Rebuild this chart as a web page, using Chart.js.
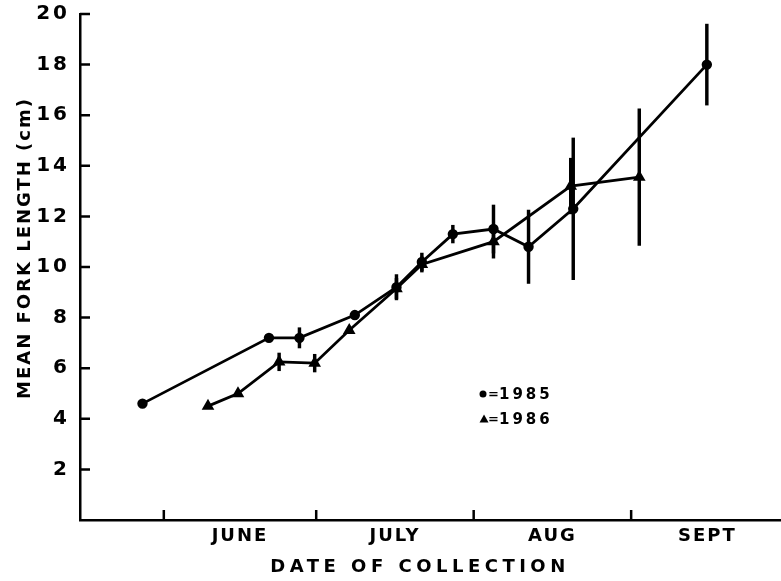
<!DOCTYPE html>
<html>
<head>
    <title>Mean fork length by date of collection</title>
    <script src="https://cdn.jsdelivr.net/npm/chart.js"></script>
    <style>
        body { margin: 0; background: #fff; }
        #wrap { width: 781px; height: 581px; }
    </style>
</head>
<body>
    <div id="wrap"><canvas id="forkChart"></canvas></div>
    <script>
        // x values are days counted from 1 May (1 June = day 31)
        const monthLabels = ['JUNE', 'JULY', 'AUG', 'SEPT'];
        const monthStarts = [31, 61, 92, 123, 153];

        // 1985 (circles)
        const days1985 = [26.8, 51.7, 57.7, 68.6, 76.8, 81.8, 87.9, 95.9, 102.8, 111.6, 137.9];
        const fork1985 = [4.6, 7.2, 7.2, 8.1, 9.2, 10.2, 11.3, 11.5, 10.8, 12.3, 18.0];
        const err1985  = [0, 0, 0.4, 0, 0.5, 0.35, 0.35, 0.95, 1.45, 2.8, 1.6];

        // 1986 (triangles)
        const days1986 = [39.7, 45.6, 53.7, 60.7, 67.5, 76.8, 81.8, 95.9, 111.1, 124.6];
        const fork1986 = [4.5, 5.0, 6.25, 6.2, 7.5, 9.15, 10.1, 11.0, 13.2, 13.55];
        const err1986  = [0, 0, 0.35, 0.35, 0, 0.4, 0.3, 0.65, 1.1, 2.7];

        const FONT = '"DejaVu Sans", sans-serif';

        // month names sit halfway between the month boundaries
        const labelDays = monthLabels.map((m, i) => (monthStarts[i] + monthStarts[i + 1]) / 2);

        const points = (xs, ys) => xs.map((d, i) => ({ x: d, y: ys[i] }));
        const errorBars = (xs, ys, es) => xs
            .map((d, i) => ({ x: d, y: [ys[i] - es[i], ys[i] + es[i]] }))
            .filter((p, i) => es[i] > 0);

        // inward tick marks, axis titles and the little key
        const inkPlugin = {
            id: 'ink',
            beforeDraw(chart) {
                chart.ctx.letterSpacing = '2px';
            },
            afterDatasetsDraw(chart) {
                // y labels are drawn after the datasets (ticks.z = 1)
                chart.ctx.letterSpacing = '3px';
            },
            afterDraw(chart) {
                const { ctx, chartArea, scales: { x, y } } = chart;
                ctx.save();
                ctx.strokeStyle = '#000';
                ctx.fillStyle = '#000';
                ctx.lineWidth = 2.5;

                ctx.beginPath();
                y.ticks.forEach(t => {
                    if (t.value <= 0) return;
                    const py = y.getPixelForValue(t.value);
                    ctx.moveTo(chartArea.left, py);
                    ctx.lineTo(chartArea.left + 10, py);
                });
                monthStarts.slice(0, 4).forEach(d => {
                    const px = x.getPixelForValue(d);
                    ctx.moveTo(px, chartArea.bottom);
                    ctx.lineTo(px, chartArea.bottom - 10);
                });
                ctx.stroke();

                // x title
                ctx.letterSpacing = '4.5px';
                ctx.font = 'bold 18px ' + FONT;
                ctx.textAlign = 'center';
                ctx.textBaseline = 'middle';
                ctx.fillText('DATE OF COLLECTION', 420, 567);

                // y title
                ctx.letterSpacing = '2px';
                ctx.save();
                ctx.translate(25, 248);
                ctx.rotate(-Math.PI / 2);
                ctx.fillText('MEAN FORK LENGTH (cm)', 0, 0);
                ctx.restore();

                // key
                ctx.beginPath();
                ctx.arc(483, 394, 3.5, 0, Math.PI * 2);
                ctx.fill();
                ctx.beginPath();
                ctx.moveTo(484, 414.5);
                ctx.lineTo(488.5, 422.5);
                ctx.lineTo(479.5, 422.5);
                ctx.closePath();
                ctx.fill();
                ctx.textAlign = 'left';
                ctx.letterSpacing = '0px';
                ctx.font = 'bold 13px ' + FONT;
                ctx.fillText('=', 488, 395);
                ctx.fillText('=', 488, 420);
                ctx.letterSpacing = '3px';
                ctx.font = 'bold 15px ' + FONT;
                ctx.fillText('1985', 499, 395);
                ctx.fillText('1986', 499, 420);
                ctx.restore();
            }
        };

        const ctx = document.getElementById('forkChart').getContext('2d');
        const chart = new Chart(ctx, {
            type: 'line',
            data: {
                datasets: [{
                    label: '1985',
                    data: points(days1985, fork1985),
                    borderColor: '#000',
                    backgroundColor: '#000',
                    borderWidth: 2.8,
                    pointStyle: 'circle',
                    pointRadius: 3.8,
                    tension: 0
                }, {
                    label: '1986',
                    data: points(days1986, fork1986),
                    borderColor: '#000',
                    backgroundColor: '#000',
                    borderWidth: 2.8,
                    pointStyle: 'triangle',
                    pointRadius: 4.5,
                    tension: 0
                }, {
                    type: 'bar',
                    label: '1985 range',
                    data: errorBars(days1985, fork1985, err1985),
                    backgroundColor: '#000',
                    barThickness: 2.8,
                    grouped: false
                }, {
                    type: 'bar',
                    label: '1986 range',
                    data: errorBars(days1986, fork1986, err1986),
                    backgroundColor: '#000',
                    barThickness: 2.8,
                    grouped: false
                }]
            },
            options: {
                responsive: true,
                maintainAspectRatio: false,
                animation: false,
                events: [],
                layout: {
                    autoPadding: false,
                    padding: { top: 14, right: 0, left: 0, bottom: 0 }
                },
                plugins: {
                    legend: { display: false },
                    tooltip: { enabled: false }
                },
                scales: {
                    x: {
                        type: 'linear',
                        min: 14.5,
                        max: 152.5,
                        offset: false,
                        grid: { display: false, drawTicks: false },
                        border: { display: true, color: '#000', width: 2.5 },
                        afterBuildTicks: s => { s.ticks = labelDays.map(v => ({ value: v })); },
                        afterFit: s => {
                            s.height = 61;
                            s.paddingLeft = 0;
                            s.paddingRight = 0;
                        },
                        ticks: {
                            autoSkip: false,
                            maxRotation: 0,
                            padding: 6,
                            color: '#000',
                            font: { family: FONT, size: 18, weight: 'bold' },
                            callback: (v, i) => monthLabels[i]
                        }
                    },
                    y: {
                        min: 0,
                        max: 20,
                        grid: { display: false, drawTicks: false },
                        border: { display: true, color: '#000', width: 2.5 },
                        afterFit: s => {
                            s.width = 80;
                            s.paddingTop = 0;
                            s.paddingBottom = 0;
                        },
                        ticks: {
                            z: 1,
                            stepSize: 2,
                            padding: 10,
                            color: '#000',
                            font: { family: FONT, size: 20, weight: 'bold' },
                            callback: v => (v === 0 ? '' : v)
                        }
                    }
                }
            },
            plugins: [inkPlugin]
        });
    </script>
</body>
</html>
